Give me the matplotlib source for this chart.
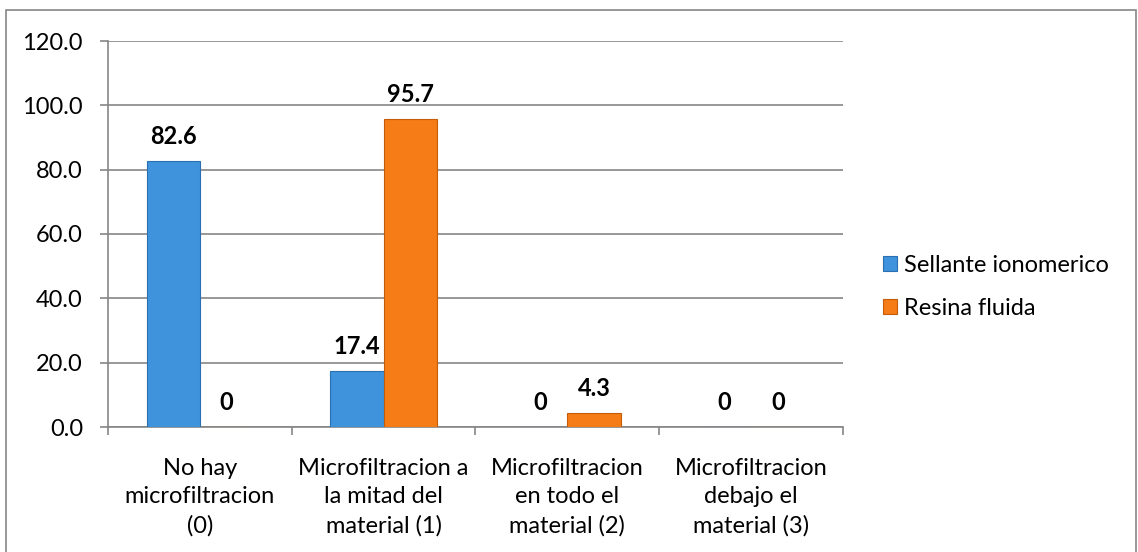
import matplotlib.pyplot as plt
import numpy as np
from matplotlib.patches import Rectangle

# Datos del grafico
categorias = ["No hay\nmicrofiltracion\n(0)",
              "Microfiltracion a\nla mitad del\nmaterial (1)",
              "Microfiltracion\nen todo el\nmaterial (2)",
              "Microfiltracion\ndebajo el\nmaterial (3)"]
sellante = [82.6, 17.4, 0, 0]
resina = [0, 95.7, 4.3, 0]
etiquetas_s = ["82.6", "17.4", "0", "0"]
etiquetas_r = ["0", "95.7", "4.3", "0"]

plt.rcParams['font.family'] = ['Lato', 'DejaVu Sans']
gris = "#868686"
fs = 17

fig = plt.figure(figsize=(11.38, 5.52), dpi=100)
ax = fig.add_axes([108/1138, 1-427/552, (843-108)/1138, (427-41)/552])

# Borde exterior del grafico
fig.patches.append(Rectangle((6/1138, -0.01), 1130/1138, 1-10/552+0.01,
                             transform=fig.transFigure, fill=False,
                             edgecolor=gris, lw=1.2))

x = np.arange(len(categorias))
w = 0.29
b1 = ax.bar(x - w/2, sellante, w, color="#3f93dc", edgecolor="#2a6fb0", lw=0.8,
            label="Sellante ionomerico", zorder=3)
b2 = ax.bar(x + w/2, resina, w, color="#f57c16", edgecolor="#c55c0a", lw=0.8,
            label="Resina fluida", zorder=3)

for r, t in zip(b1, etiquetas_s):
    ax.text(r.get_x() + r.get_width()/2, r.get_height() + 4, t,
            ha="center", va="bottom", fontsize=fs, fontweight="bold")
for r, t in zip(b2, etiquetas_r):
    ax.text(r.get_x() + r.get_width()/2, r.get_height() + 4, t,
            ha="center", va="bottom", fontsize=fs, fontweight="bold")

ax.set_xlim(-0.5, 3.5)
ax.set_ylim(0, 120)
ax.set_yticks(np.arange(0, 121, 20))
ax.set_yticklabels(["%.1f" % v for v in np.arange(0, 121, 20)], fontsize=fs)
ax.yaxis.grid(True, color=gris, lw=1.2, zorder=0)

ax.set_xticks(x)
ax.set_xticklabels(categorias, fontsize=fs, linespacing=1.45)
ax.set_xticks(np.arange(-0.5, 3.6, 1), minor=True)
ax.tick_params(axis="x", which="major", length=0, pad=22)
ax.tick_params(axis="x", which="minor", length=6, color=gris, width=1.2)
ax.tick_params(axis="y", length=6, color=gris, width=1.2, pad=12)

for s in ["top", "right"]:
    ax.spines[s].set_visible(False)
for s in ["left", "bottom"]:
    ax.spines[s].set_color(gris)
    ax.spines[s].set_linewidth(1.2)

ax.legend(loc="center left", bbox_to_anchor=(1.025, 0.363), frameon=False,
          fontsize=fs, handlelength=0.6, handleheight=0.6, labelspacing=0.9,
          handletextpad=0.3)

fig.savefig("out.png")
